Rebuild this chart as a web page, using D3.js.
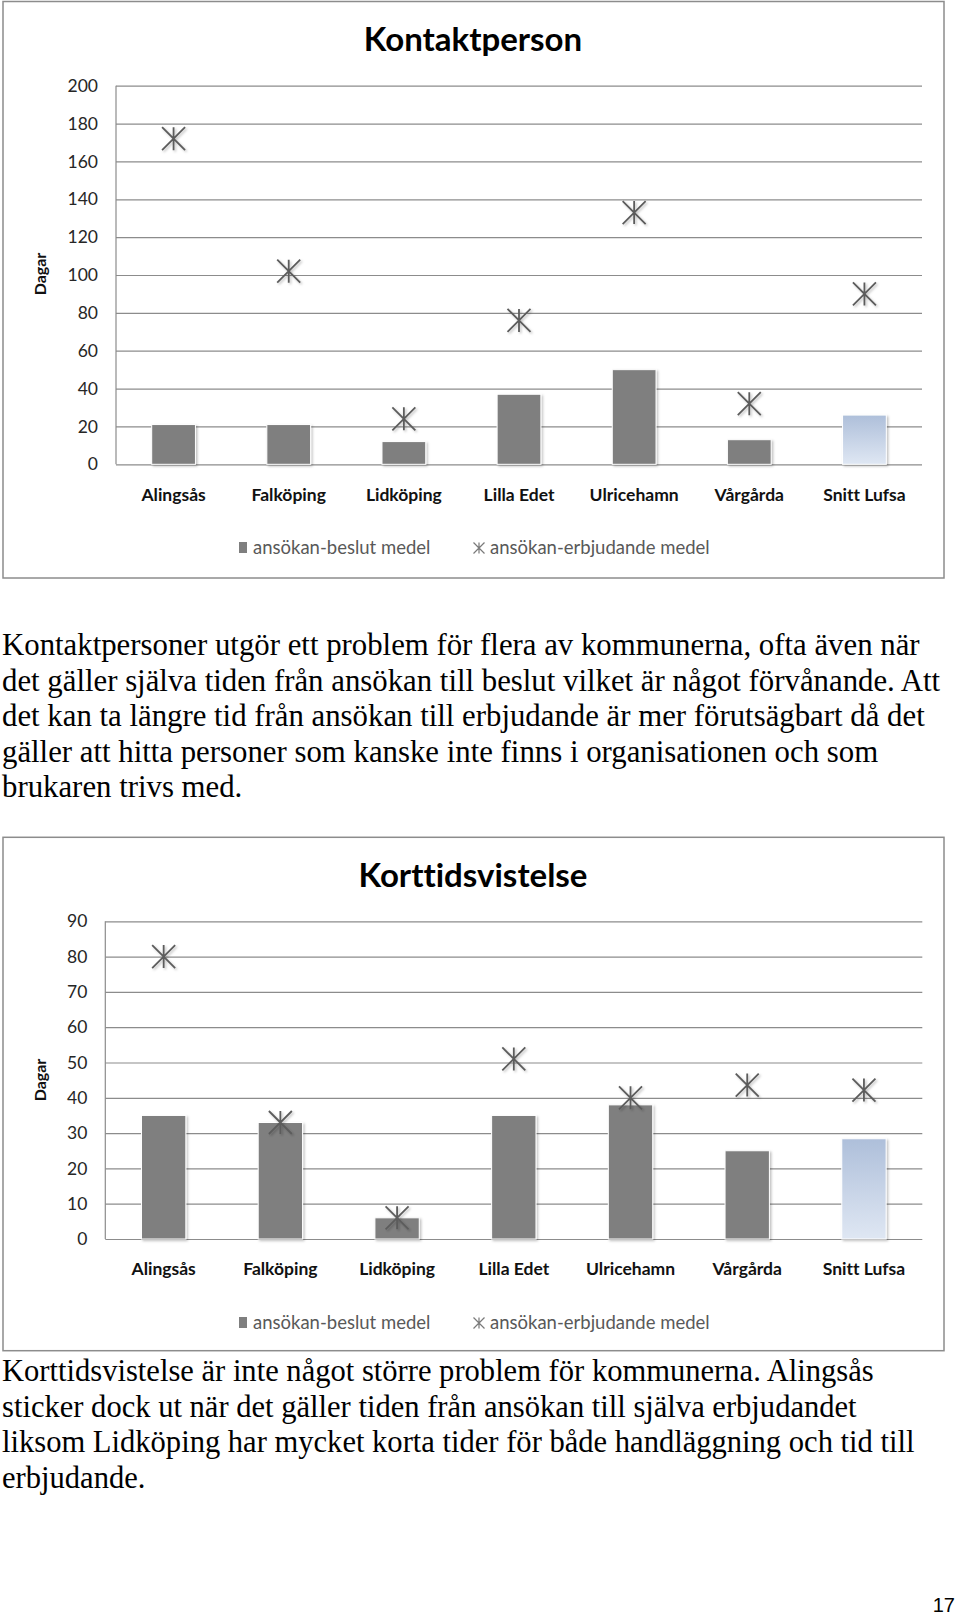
<!DOCTYPE html>
<html>
<head>
<meta charset="utf-8">
<script src="https://cdn.jsdelivr.net/npm/d3@7"></script>
<style>
  body { margin: 0; background: #fff; }
  svg { display: block; }
  text { font-variant-ligatures: none; }
</style>
</head>
<body>
<svg id="page" width="960" height="1618"></svg>
<script>
// data
const categories = ["Alingsås", "Falköping", "Lidköping", "Lilla Edet", "Ulricehamn", "Vårgårda", "Snitt Lufsa"];

const kontaktBeslut = [21, 21, 12, 37, 50, 13, 26];
const kontaktErbjudande = [172, 102, 24, 76, 133, 32, 90];
const kontaktTicks = [0, 20, 40, 60, 80, 100, 120, 140, 160, 180, 200];

const korttidBeslut = [35, 33, 6, 35, 38, 25, 28.4];
const korttidErbjudande = [80, 33, 6, 51, 40, 43.6, 42.2];
const korttidTicks = [0, 10, 20, 30, 40, 50, 60, 70, 80, 90];

const legendLabels = ["ansökan-beslut medel", "ansökan-erbjudande medel"];

const text1 = [
  "Kontaktpersoner utgör ett problem för flera av kommunerna, ofta även när",
  "det gäller själva tiden från ansökan till beslut vilket är något förvånande. Att",
  "det kan ta längre tid från ansökan till erbjudande är mer förutsägbart då det",
  "gäller att hitta personer som kanske inte finns i organisationen och som",
  "brukaren trivs med."
];
const text2 = [
  "Korttidsvistelse är inte något större problem för kommunerna. Alingsås",
  "sticker dock ut när det gäller tiden från ansökan till själva erbjudandet",
  "liksom Lidköping har mycket korta tider för både handläggning och tid till",
  "erbjudande."
];

const chartFont = "Lato, 'Open Sans', sans-serif";
const svg = d3.select("#page");

const defs = svg.append("defs");
const grad = defs.append("linearGradient")
  .attr("id", "snitt").attr("x1", 0).attr("y1", 0).attr("x2", 0).attr("y2", 1);
grad.append("stop").attr("offset", "0%").attr("stop-color", "#aebfda");
grad.append("stop").attr("offset", "100%").attr("stop-color", "#dfe7f3");

const shadow = defs.append("filter").attr("id", "shadow")
  .attr("x", "-30%").attr("y", "-30%").attr("width", "160%").attr("height", "160%");
shadow.append("feDropShadow").attr("dx", 1.5).attr("dy", 1.5).attr("stdDeviation", 1.2)
  .attr("flood-color", "#000").attr("flood-opacity", 0.25);

function starPath(r) {
  return `M${-r},${-r}L${r},${r}M${-r},${r}L${r},${-r}M0,${-r}L0,${r}`;
}

function drawChart(opts) {
  const g = svg.append("g");

  g.append("rect")
    .attr("x", opts.frame.x).attr("y", opts.frame.y)
    .attr("width", opts.frame.w).attr("height", opts.frame.h)
    .attr("fill", "#fff").attr("stroke", "#8c8c8c").attr("stroke-width", 1.5);

  const x = d3.scaleBand().domain(categories)
    .range([opts.plot.left, opts.plot.right])
    .paddingInner(0.62).paddingOuter(0.31);
  const y = d3.scaleLinear().domain([0, d3.max(opts.ticks)])
    .range([opts.plot.bottom, opts.plot.top]);

  // gridlines + tick labels
  const yAxis = g.append("g")
    .attr("transform", "translate(" + opts.plot.left + ",0)")
    .call(d3.axisLeft(y).tickValues(opts.ticks).tickSize(-(opts.plot.right - opts.plot.left)).tickPadding(18));
  yAxis.select(".domain").remove();
  yAxis.selectAll(".tick line").attr("stroke", "#8c8c8c").attr("stroke-width", 1.2);
  yAxis.selectAll(".tick text")
    .style("font-family", chartFont).style("font-size", "17.5px").attr("fill", "#262626");

  // vertical axis line
  g.append("line")
    .attr("x1", opts.plot.left).attr("x2", opts.plot.left)
    .attr("y1", y(d3.max(opts.ticks))).attr("y2", y(0))
    .attr("stroke", "#8c8c8c").attr("stroke-width", 1.2);

  // bars
  g.selectAll(".bar").data(opts.beslut).enter().append("rect")
    .attr("class", "bar")
    .attr("x", (d, i) => x(categories[i]))
    .attr("y", d => y(d))
    .attr("width", x.bandwidth())
    .attr("height", d => y(0) - y(d))
    .attr("fill", (d, i) => categories[i] === "Snitt Lufsa" ? "url(#snitt)" : "#7f7f7f")
    .attr("stroke", "#fff").attr("stroke-width", 1)
    .attr("filter", "url(#shadow)");

  // stars
  g.selectAll(".star").data(opts.erbjudande).enter().append("path")
    .attr("class", "star")
    .attr("transform", (d, i) => "translate(" + (x(categories[i]) + x.bandwidth() / 2) + "," + y(d) + ")")
    .attr("d", starPath(11.5))
    .attr("fill", "none").attr("stroke", "#5c5c5c").attr("stroke-width", 1.8)
    .attr("filter", "url(#shadow)");

  // category labels
  const xAxis = g.append("g")
    .attr("transform", "translate(0," + opts.plot.bottom + ")")
    .call(d3.axisBottom(x).tickSize(0).tickPadding(opts.labelPad));
  xAxis.select(".domain").remove();
  xAxis.selectAll(".tick text")
    .style("font-family", chartFont).style("font-size", "17.5px").style("font-weight", "bold")
    .attr("fill", "#111");

  // title
  g.append("text")
    .attr("x", opts.titleX).attr("y", opts.titleY)
    .attr("text-anchor", "middle")
    .style("font-family", chartFont).style("font-size", "33px").style("font-weight", "bold")
    .attr("fill", "#000")
    .text(opts.title);

  // y axis title
  g.append("text")
    .attr("transform", "translate(" + opts.dagarX + "," + opts.dagarY + ") rotate(-90)")
    .attr("text-anchor", "middle")
    .style("font-family", chartFont).style("font-size", "16px").style("font-weight", "bold")
    .attr("fill", "#111")
    .text("Dagar");

  // legend
  const lg = g.append("g").attr("transform", "translate(0," + opts.legendY + ")");
  lg.append("rect").attr("x", 239).attr("y", -12).attr("width", 8).attr("height", 11)
    .attr("fill", "#7f7f7f");
  lg.append("text").attr("x", 253).attr("y", 0)
    .style("font-family", chartFont).style("font-size", "18.5px").attr("fill", "#595959")
    .text(legendLabels[0]);
  lg.append("path").attr("transform", "translate(479,-6)").attr("d", starPath(5.5))
    .attr("fill", "none").attr("stroke", "#7a7a7a").attr("stroke-width", 1.2);
  lg.append("text").attr("x", 490).attr("y", 0)
    .style("font-family", chartFont).style("font-size", "18.5px").attr("fill", "#595959")
    .text(legendLabels[1]);
}

drawChart({
  title: "Kontaktperson",
  frame: { x: 3, y: 1.5, w: 941, h: 576.5 },
  plot: { left: 116, right: 922, top: 85.7, bottom: 464.3 },
  ticks: kontaktTicks,
  beslut: kontaktBeslut,
  erbjudande: kontaktErbjudande,
  titleX: 473, titleY: 51,
  labelPad: 24,
  dagarX: 46, dagarY: 274,
  legendY: 554
});

drawChart({
  title: "Korttidsvistelse",
  frame: { x: 3, y: 837.3, w: 941, h: 513.4 },
  plot: { left: 105.3, right: 922.3, top: 921.3, bottom: 1239 },
  ticks: korttidTicks,
  beslut: korttidBeslut,
  erbjudande: korttidErbjudande,
  titleX: 473, titleY: 887,
  labelPad: 24,
  dagarX: 46, dagarY: 1080,
  legendY: 1329
});

// body text, font size fitted so the first line spans the same width as in the page
function paragraph(lines, y0, firstLineWidth) {
  const texts = svg.append("g").selectAll("text").data(lines).enter().append("text")
    .attr("x", 2)
    .attr("y", (d, i) => y0 + i * 35.5)
    .style("font-family", "'Liberation Serif', 'Times New Roman', serif")
    .style("font-size", "30px")
    .attr("fill", "#000")
    .text(d => d);
  const w = texts.node().getComputedTextLength();
  texts.style("font-size", (30 * firstLineWidth / w) + "px");
}
paragraph(text1, 655, 918);
paragraph(text2, 1381, 872);

svg.append("text")
  .attr("x", 955).attr("y", 1612)
  .attr("text-anchor", "end")
  .style("font-family", "'Liberation Sans', Arial, sans-serif")
  .style("font-size", "20px")
  .text("17");
</script>
</body>
</html>
